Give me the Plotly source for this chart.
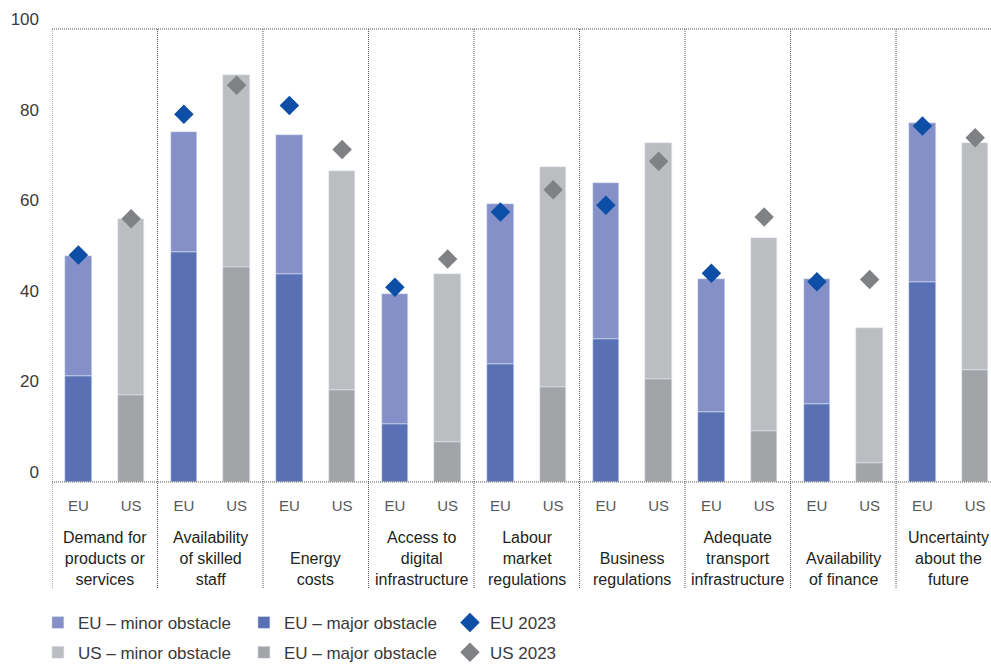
import plotly.graph_objects as go

groups = [
    "Demand for<br>products or<br>services",
    "Availability<br>of skilled<br>staff",
    "Energy<br>costs",
    "Access to<br>digital<br>infrastructure",
    "Labour<br>market<br>regulations",
    "Business<br>regulations",
    "Adequate<br>transport<br>infrastructure",
    "Availability<br>of finance",
    "Uncertainty<br>about the<br>future",
]
regions = ["EU", "US"]

eu_major = [23.5, 50.8, 46.0, 12.9, 26.1, 31.6, 15.5, 17.3, 44.2]
eu_minor = [26.5, 26.5, 30.7, 28.5, 35.3, 34.3, 29.4, 27.6, 35.1]
eu_2023 = [50.1, 81.2, 83.1, 43.0, 59.6, 61.1, 46.1, 44.2, 78.6]
us_major = [19.1, 47.4, 20.4, 8.9, 21.0, 22.8, 11.3, 4.3, 24.8]
us_minor = [39.0, 42.5, 48.3, 37.1, 48.6, 52.1, 42.6, 29.8, 50.1]
us_2023 = [58.1, 87.6, 73.4, 49.2, 64.5, 70.8, 58.5, 44.7, 76.0]

y_ticks = [0, 20, 40, 60, 80, 100]

FONT = "Liberation Sans, Arial, sans-serif"

n = len(groups)
eu_x = [2 * i for i in range(n)]
us_x = [2 * i + 1 for i in range(n)]

C_EU_MIN = "#8490c7"
C_EU_MAJ = "#5a70b5"
C_EU_23 = "#0d4ea6"
C_US_MIN = "#bcbdc1"
C_US_MAJ = "#a3a4a8"
C_US_23 = "#808185"

fig = go.Figure()
fig.add_trace(go.Bar(x=eu_x, y=eu_major, name="EU – major obstacle", marker_color=C_EU_MAJ,
                     width=0.5, legend="legend", legendrank=2))
fig.add_trace(go.Bar(x=eu_x, y=eu_minor, name="EU – minor obstacle", marker_color=C_EU_MIN,
                     width=0.5, legend="legend", legendrank=1))
fig.add_trace(go.Bar(x=us_x, y=us_major, name="EU – major obstacle", marker_color=C_US_MAJ,
                     width=0.5, legend="legend2", legendrank=2))
fig.add_trace(go.Bar(x=us_x, y=us_minor, name="US – minor obstacle", marker_color=C_US_MIN,
                     width=0.5, legend="legend2", legendrank=1))
fig.add_trace(go.Scatter(x=eu_x, y=eu_2023, mode="markers", name="EU 2023",
                         marker=dict(symbol="diamond", size=15, color=C_EU_23),
                         legend="legend", legendrank=3))
fig.add_trace(go.Scatter(x=us_x, y=us_2023, mode="markers", name="US 2023",
                         marker=dict(symbol="diamond", size=15, color=C_US_23),
                         legend="legend2", legendrank=3))

line_c = "#555557"
dot = "1px,1px"
shapes = []
for i in range(n):
    xb = 2 * i - 0.5
    shapes.append(dict(type="line", xref="x", yref="paper", x0=xb, x1=xb, y0=-0.234, y1=1,
                       line=dict(color=line_c, width=1, dash=dot)))
for yy in (0, 1):
    shapes.append(dict(type="line", xref="paper", yref="paper", x0=0, x1=1, y0=yy, y1=yy,
                       line=dict(color=line_c, width=1, dash=dot)))

annotations = []
for i, g in enumerate(groups):
    annotations.append(dict(x=2 * i + 0.5, xref="x", y=-0.238, yref="paper", text=g,
                            showarrow=False, xanchor="center", yanchor="bottom", align="center",
                            font=dict(family=FONT, size=16, color="#231f20")))

legend_common = dict(orientation="h", xanchor="left", yanchor="middle", bgcolor="rgba(0,0,0,0)",
                     font=dict(family=FONT, size=17, color="#3a3a3c"), entrywidth=161,
                     entrywidthmode="pixels", traceorder="normal", itemclick=False)

fig.update_layout(
    width=991, height=667,
    margin=dict(l=52, r=0, t=29, b=185, autoexpand=False),
    paper_bgcolor="white", plot_bgcolor="white",
    barmode="relative",
    bargap=0,
    showlegend=True,
    legend=dict(x=-0.015, y=-0.311, **legend_common),
    legend2=dict(x=-0.015, y=-0.377, **legend_common),
    shapes=shapes,
    annotations=annotations,
    font=dict(family=FONT),
    xaxis=dict(range=[-0.5, 17.3], tickmode="array", tickvals=eu_x + us_x,
               ticktext=[regions[0]] * n + [regions[1]] * n,
               showgrid=False, zeroline=False, showline=False, ticks="",
               ticklabelstandoff=13,
               tickfont=dict(family=FONT, size=15, color="#58595b")),
    yaxis=dict(range=[0, 100], tickmode="array", tickvals=y_ticks,
               showgrid=False, zeroline=False, showline=False, ticks="",
               ticklabelshift=-10, ticklabelstandoff=12,
               tickfont=dict(family=FONT, size=17, color="#3a3a3c")),
)

fig.write_html("out.html", config={"displayModeBar": False},
               post_script="document.body.style.margin='0';document.body.style.overflow='hidden';")
